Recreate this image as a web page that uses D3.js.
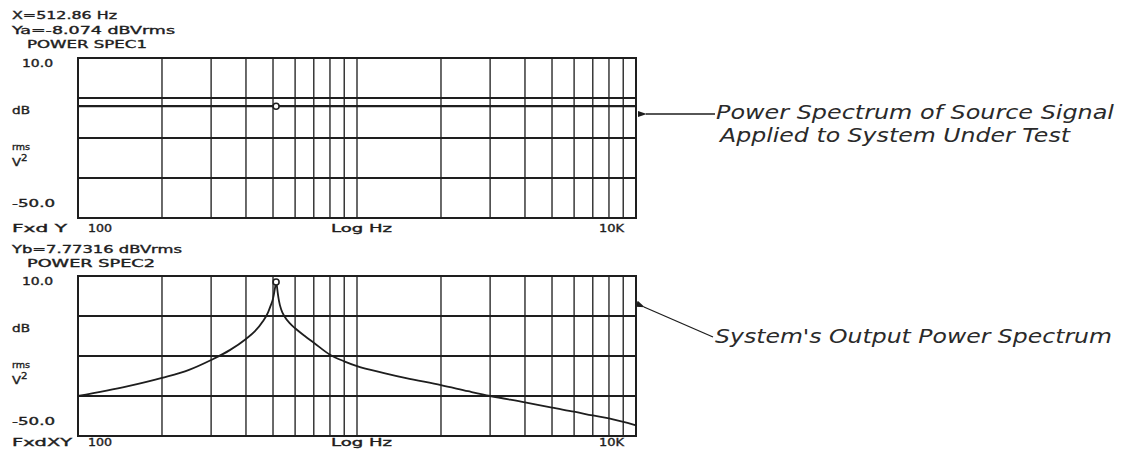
<!DOCTYPE html>
<html>
<head>
<meta charset="utf-8">
<script src="https://cdn.jsdelivr.net/npm/d3@7"></script>
<style>
  html, body { margin: 0; padding: 0; background: #ffffff; }
  svg { display: block; }
</style>
</head>
<body>
<svg id="chart" width="1127" height="450"></svg>
<script>
// ---------------- data ----------------
const freqDomain = [100, 10000];
const dbDomain = [-50, 10];
const dbGrid = [-35, -20, -5];
const yTickLabels = ["10.0", "-50.0"];
const xTickLabels = ["100", "Log Hz", "10K"];

// Source spectrum (flat)
const sourceFreq = [100, 10000];
const sourceDb = [-8.074, -8.074];
const markerFreq = 512.86;
const markerSourceDb = -8.074;
const markerOutputDb = 7.77316;

// System output spectrum (resonance near 513 Hz)
const outFreq = [100, 150, 200, 250, 300, 350, 400, 430, 460, 480, 490, 500, 505, 510, 513, 516, 520, 525, 535, 550, 575, 600, 650, 700, 800, 900, 1000, 1250, 1500, 2000, 2500, 3000, 4000, 5000, 6000, 7000, 8000, 10000];
const outDb   = [-35, -31.4, -28.2, -25.2, -21.5, -17.8, -13.6, -10.8, -7.0, -3.6, -1.2, 1.5, 3.8, 6.4, 7.77, 6.4, 3.6, 0.8, -2.6, -5.2, -7.8, -9.6, -12.5, -15.0, -19.5, -22.0, -23.8, -26.4, -28.3, -30.9, -33.2, -35.0, -37.4, -39.4, -40.9, -42.3, -43.4, -46.0];

const header1 = ["X=512.86 Hz", "Ya=-8.074 dBVrms", "POWER SPEC1"];
const header2 = ["Yb=7.77316 dBVrms", "POWER SPEC2"];
const footer = ["Fxd Y", "FxdXY"];
const noteTop = ["Power Spectrum of Source Signal", "Applied to System Under Test"];
const noteBottom = "System's Output Power Spectrum";

// ---------------- drawing ----------------
(function () {
const svg = d3.select("#chart");
const ink = "#1e1e1e";
const plotFont = "DejaVu Sans, sans-serif";

const x = d3.scaleLog().domain(freqDomain).range([78, 636]);
const panels = [
  { top: 58, bottom: 218, labelGap: 14 },
  { top: 276, bottom: 436, labelGap: 10 }
];
panels.forEach(p => { p.y = d3.scaleLinear().domain(dbDomain).range([p.bottom, p.top]); });

function ptext(t, px, py, w, size) {
  const el = svg.append("text")
    .attr("x", px).attr("y", py)
    .attr("font-family", plotFont)
    .attr("font-size", size || 10)
    .attr("fill", ink)
    .attr("stroke", ink).attr("stroke-width", 0.35)
    .text(t);
  if (w) el.attr("textLength", w).attr("lengthAdjust", "spacingAndGlyphs");
  return el;
}

const vTicks = x.ticks().filter(f => f > freqDomain[0] && f < freqDomain[1]);

panels.forEach((p, i) => {
  const g = svg.append("g");
  g.selectAll("line.v").data(vTicks).enter().append("line")
    .attr("x1", d => x(d)).attr("x2", d => x(d))
    .attr("y1", p.top).attr("y2", p.bottom)
    .attr("stroke", "#2a2a2a").attr("stroke-width", 1.4);
  g.selectAll("line.h").data(dbGrid).enter().append("line")
    .attr("x1", x(freqDomain[0])).attr("x2", x(freqDomain[1]))
    .attr("y1", d => p.y(d)).attr("y2", d => p.y(d))
    .attr("stroke", "#1e1e1e").attr("stroke-width", 2);
  g.append("rect")
    .attr("x", x(freqDomain[0])).attr("y", p.top)
    .attr("width", x(freqDomain[1]) - x(freqDomain[0]))
    .attr("height", p.bottom - p.top)
    .attr("fill", "none").attr("stroke", ink).attr("stroke-width", 2);

  ptext(yTickLabels[0], 22, p.top + 9, 31);
  ptext(yTickLabels[1], 12, p.bottom - 11, 43);
  ptext("dB", 12, p.top + 56, 18);
  ptext("rms", 12, p.top + 92, 18, 8.5);
  ptext("V", 12, p.top + 108, 9);
  ptext("2", 21, p.top + 103, 6.5, 8.5);
  const ly = p.bottom + p.labelGap;
  ptext(footer[i], 12, ly, i === 0 ? 55 : 60);
  ptext(xTickLabels[0], 88, ly, 24);
  ptext(xTickLabels[1], 331, ly, 61);
  ptext(xTickLabels[2], 599, ly, 25);
});

ptext(header1[0], 12, 19, 105);
ptext(header1[1], 12, 34, 163);
ptext(header1[2], 27, 48, 120);
ptext(header2[0], 12, 253, 170);
ptext(header2[1], 27, 267, 128);

const pTop = panels[0], pBot = panels[1];
const srcData = sourceFreq.map((f, i) => [f, sourceDb[i]]);
svg.append("path")
  .attr("d", d3.line().x(d => x(d[0])).y(d => pTop.y(d[1]))(srcData))
  .attr("fill", "none").attr("stroke", ink).attr("stroke-width", 2.2);

const outData = outFreq.map((f, i) => [f, outDb[i]]);
svg.append("path")
  .attr("d", d3.line().curve(d3.curveMonotoneX).x(d => x(d[0])).y(d => pBot.y(d[1]))(outData))
  .attr("fill", "none").attr("stroke", ink).attr("stroke-width", 1.8);

svg.append("circle").attr("cx", x(markerFreq)).attr("cy", pTop.y(markerSourceDb)).attr("r", 3)
  .attr("fill", "#fff").attr("stroke", ink).attr("stroke-width", 1.6);
svg.append("circle").attr("cx", x(markerFreq)).attr("cy", pBot.y(markerOutputDb)).attr("r", 3)
  .attr("fill", "#fff").attr("stroke", ink).attr("stroke-width", 1.6);

const defs = svg.append("defs");
defs.append("marker").attr("id", "ah").attr("viewBox", "0 0 10 10")
  .attr("refX", 1).attr("refY", 5).attr("markerWidth", 7).attr("markerHeight", 7)
  .attr("orient", "auto-start-reverse")
  .append("path").attr("d", "M0,5 L10,1.5 L10,8.5 Z").attr("fill", ink);

svg.append("line").attr("x1", 646).attr("y1", 114).attr("x2", 715).attr("y2", 114)
  .attr("stroke", ink).attr("stroke-width", 1.3).attr("marker-start", "url(#ah)");
svg.append("line").attr("x1", 644).attr("y1", 307).attr("x2", 713).attr("y2", 337)
  .attr("stroke", ink).attr("stroke-width", 1.3).attr("marker-start", "url(#ah)");

function note(t, px, py, w) {
  svg.append("text").attr("x", px).attr("y", py)
    .attr("font-family", "DejaVu Sans, sans-serif").attr("font-style", "italic")
    .attr("font-size", 19).attr("fill", "#2a2a2a")
    .attr("textLength", w).attr("lengthAdjust", "spacingAndGlyphs")
    .text(t);
}
note(noteTop[0], 716, 119, 398);
note(noteTop[1], 720, 142, 350);
note(noteBottom, 715, 343, 397);
})();
</script>
</body>
</html>
